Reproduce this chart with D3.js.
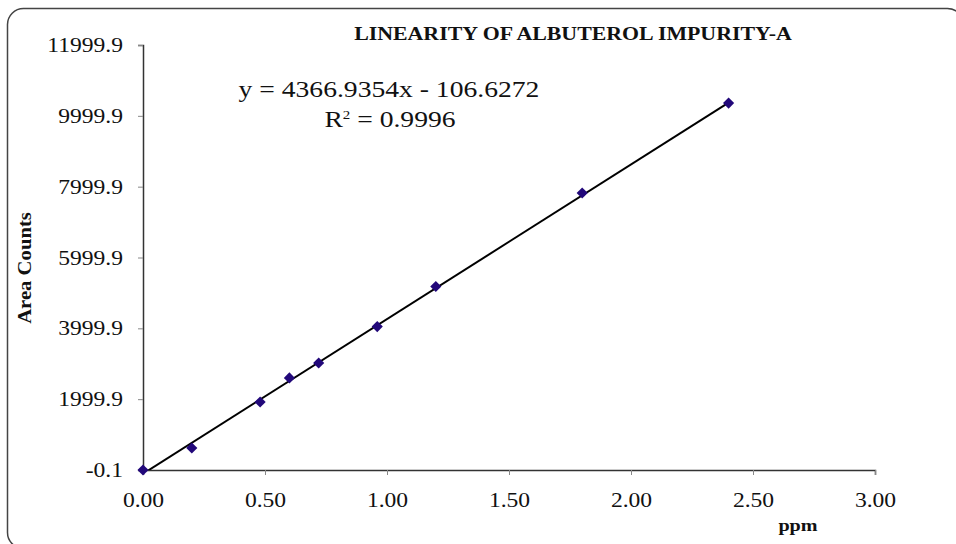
<!DOCTYPE html>
<html>
<head>
<meta charset="utf-8">
<script src="https://cdn.jsdelivr.net/npm/d3@7"></script>
<style>
  html, body { margin: 0; padding: 0; background: #fff; }
  svg { display: block; }
  text { font-family: "Liberation Serif", "Times New Roman", serif; }
</style>
</head>
<body>
<svg id="chart" width="956" height="544"></svg>
<script>
// ---- data ----
const ppm = [0, 0.2, 0.48, 0.6, 0.72, 0.96, 1.2, 1.8, 2.4];
const areaCounts = [0, 620, 1920, 2600, 3020, 4050, 5180, 7820, 10360];
const xTicks = [0, 0.5, 1.0, 1.5, 2.0, 2.5, 3.0];
const yTicks = [-0.1, 1999.9, 3999.9, 5999.9, 7999.9, 9999.9, 11999.9];
const slope = 4366.9354;
const intercept = -106.6272;
const titleText = "LINEARITY OF ALBUTEROL IMPURITY-A";
const xLabel = "ppm";
const yLabel = "Area Counts";

const svg = d3.select("#chart");
const FONT = '"Liberation Serif", "Times New Roman", serif';

// outer rounded frame (partly cut off at right/bottom)
svg.append("rect")
  .attr("x", 7.5).attr("y", 8.5)
  .attr("width", 956).attr("height", 540)
  .attr("rx", 16).attr("ry", 16)
  .attr("fill", "#fff").attr("stroke", "#444").attr("stroke-width", 1.5);

const x = d3.scaleLinear().domain([0, 3]).range([143, 875]);
const y = d3.scaleLinear().domain([-0.1, 11999.9]).range([470, 45]);

// axes
const xAxis = d3.axisBottom(x).tickValues(xTicks).tickFormat(d => d.toFixed(2))
  .tickSizeOuter(0).tickSize(5).tickPadding(17);
const yAxis = d3.axisLeft(y).tickValues(yTicks).tickFormat(d => d.toFixed(1))
  .tickSizeOuter(0).tickSize(5).tickPadding(15);

const gx = svg.append("g").attr("transform", `translate(0,${y(-0.1)})`).call(xAxis);
const gy = svg.append("g").attr("transform", `translate(${x(0)},0)`).call(yAxis);

[gx, gy].forEach(g => {
  g.select(".domain").attr("stroke", "#333").attr("stroke-width", 1.5);
  g.selectAll(".tick line").attr("stroke", "#888").attr("stroke-width", 1);
  g.selectAll(".tick text").attr("fill", "#111").style("font-size", "20.5px")
   .style("font-family", FONT).classed("stretch", true);
});

// trendline (clipped to plot area)
svg.append("clipPath").attr("id", "plotclip")
  .append("rect").attr("x", x(0)).attr("y", y(11999.9))
  .attr("width", x(3) - x(0)).attr("height", y(-0.1) - y(11999.9));

const xMin = d3.min(ppm), xMax = d3.max(ppm);
svg.append("line")
  .attr("clip-path", "url(#plotclip)")
  .attr("x1", x(xMin)).attr("y1", y(slope * xMin + intercept))
  .attr("x2", x(xMax)).attr("y2", y(slope * xMax + intercept))
  .attr("stroke", "#000").attr("stroke-width", 2);

// markers (square rotated 45° = diamond)
const diamond = d3.symbol().type(d3.symbolSquare).size(62);
svg.append("g").selectAll("path")
  .data(ppm.map((d, i) => [d, areaCounts[i]]))
  .join("path")
  .attr("d", diamond)
  .attr("transform", d => `translate(${x(d[0])},${y(d[1])}) rotate(45)`)
  .attr("fill", "#22087a");

// title
svg.append("text").classed("stretch", true)
  .attr("x", 573).attr("y", 40)
  .attr("text-anchor", "middle")
  .style("font-weight", "bold").style("font-size", "19px")
  .attr("fill", "#111")
  .text(titleText);

// equation
svg.append("text").classed("stretch", true)
  .attr("x", 389).attr("y", 97)
  .attr("text-anchor", "middle")
  .style("font-size", "24px").attr("fill", "#111")
  .text(`y = ${slope}x - ${Math.abs(intercept)}`);
const r2 = svg.append("text").classed("stretch", true)
  .attr("x", 390).attr("y", 127)
  .attr("text-anchor", "middle")
  .style("font-size", "24px").attr("fill", "#111");
r2.append("tspan").text("R");
r2.append("tspan").attr("dy", -8).style("font-size", "13px").text("2");
r2.append("tspan").attr("dy", 8).text(" = 0.9996");

// axis labels
svg.append("text").classed("stretch", true)
  .attr("x", 798).attr("y", 531)
  .attr("text-anchor", "middle")
  .style("font-weight", "bold").style("font-size", "17.5px")
  .attr("fill", "#111")
  .text(xLabel);

svg.append("text").classed("stretch", true)
  .attr("transform", "translate(31,268) rotate(-90)")
  .attr("text-anchor", "middle")
  .style("font-weight", "bold").style("font-size", "18px")
  .attr("fill", "#111")
  .text(yLabel);

// widen glyphs horizontally like the reference rendering
svg.selectAll("text.stretch").each(function() {
  const len = this.getComputedTextLength();
  d3.select(this).attr("textLength", len * 1.15).attr("lengthAdjust", "spacingAndGlyphs");
});
</script>
</body>
</html>
